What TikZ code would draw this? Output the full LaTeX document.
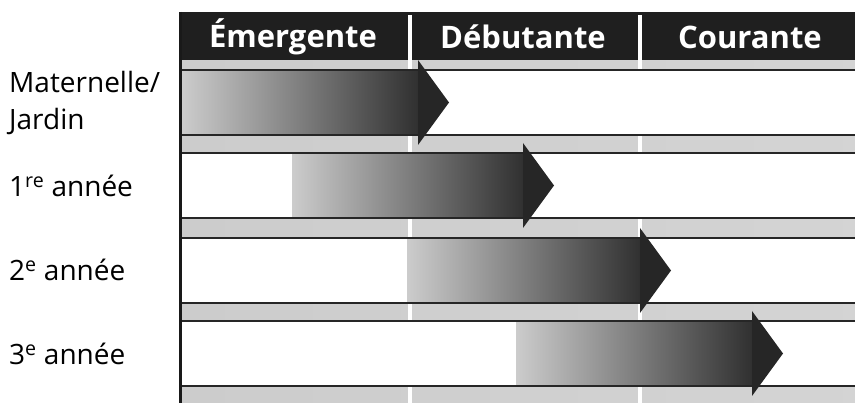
\documentclass[tikz,border=0pt]{standalone}
\usepackage{fontspec}
\setmainfont{Open Sans}
\usetikzlibrary{positioning}

\begin{document}
\begin{tikzpicture}[x=1pt, y=-1pt,
        rowline/.style={black!85, line width=2.5pt},
        colsep/.style={white, line width=3.5pt},
        grade/.style={anchor=west, align=left, inner sep=0pt, font=\fontsize{28}{37}\selectfont},
        stage/.style={text=white, inner sep=0pt, font=\bfseries\fontsize{31}{34}\selectfont}]
    \useasboundingbox (0,0) rectangle (855,403);
    % fond gris
    \shade [left color=black!20, middle color=black!5, right color=black!17] (180,60) rectangle (855,403);
    % en-tete
    \fill [black!88] (180,12) rectangle (855,60);
    \draw [colsep] (410,15) -- (410,403);
    \draw [colsep] (640,15) -- (640,403);
    \node [stage] (emergente) at (293,37) {Émergente};
    \node [stage] (debutante) at (523,37) {Débutante};
    \node [stage] (courante) at (750,37) {Courante};
    % rangees et fleches
    \foreach \t/\a/\b in {70/182/418, 153/292/523, 238/407/640, 321/516/752} {
        \fill [white] (182,\t) rectangle (855,\t+65);
        \shade [left color=black!20, right color=black!82] (\a,\t) rectangle (\b+4,\t+65);
        \draw [rowline] (180,\t) -- (855,\t);
        \draw [rowline] (180,\t+65) -- (855,\t+65);
        \fill [black!85] (\b,\t-10) -- (\b+31,\t+32.5) -- (\b,\t+75) -- cycle;
    }
    \draw [black!90, line width=3pt] (180,12) -- (180,403);
    % niveaux
    \node [grade] (maternelle) at (9,103) {Maternelle/\\Jardin};
    \node [grade] (premiere) at (9,186) {1\textsuperscript{re} année};
    \node [grade] (deuxieme) at (9,270) {2\textsuperscript{e} année};
    \node [grade] (troisieme) at (9,354) {3\textsuperscript{e} année};
\end{tikzpicture}
\end{document}
